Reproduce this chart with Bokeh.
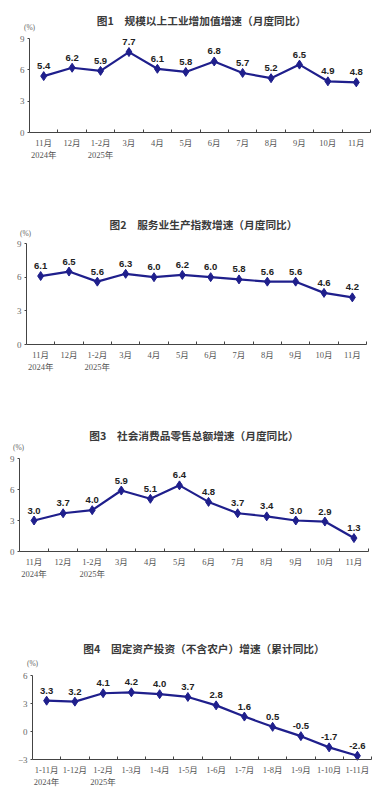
from bokeh.plotting import figure
from bokeh.models import Range1d, FixedTicker, ColumnDataSource
from bokeh.layouts import column
from bokeh.embed import file_html
from bokeh.resources import INLINE
from bokeh.core.properties import value

# ---------------- data ----------------
months_labels = ["11月\n2024年", "12月", "1-2月\n2025年", "3月", "4月", "5月", "6月",
                 "7月", "8月", "9月", "10月", "11月"]
cum_labels = ["1-11月\n2024年", "1-12月", "1-2月\n2025年", "1-3月", "1-4月", "1-5月", "1-6月",
              "1-7月", "1-8月", "1-9月", "1-10月", "1-11月"]

industry = [5.4, 6.2, 5.9, 7.7, 6.1, 5.8, 6.8, 5.7, 5.2, 6.5, 4.9, 4.8]
services = [6.1, 6.5, 5.6, 6.3, 6.0, 6.2, 6.0, 5.8, 5.6, 5.6, 4.6, 4.2]
retail = [3.0, 3.7, 4.0, 5.9, 5.1, 6.4, 4.8, 3.7, 3.4, 3.0, 2.9, 1.3]
investment = [3.3, 3.2, 4.1, 4.2, 4.0, 3.7, 2.8, 1.6, 0.5, -0.5, -1.7, -2.6]

titles = ["图1　规模以上工业增加值增速（月度同比）",
          "图2　服务业生产指数增速（月度同比）",
          "图3　社会消费品零售总额增速（月度同比）",
          "图4　固定资产投资（不含农户）增速（累计同比）"]

y_ticks_a = [0, 3, 6, 9]
y_ticks_b = [-3, 0, 3, 6]

LINE = "#1f1f8c"
SERIF = "Liberation Serif, Noto Sans CJK SC"
CJK = "Noto Sans CJK SC"
W = 392


def make_chart(vals, xlabels, y0, y1, yticks, title, top, h,
               L, T, R, B, title_xy, pct_xy):
    # L, T, R, B: page position of the data area (x 0..12, y y0..y1)
    n = len(vals)
    sx = (R - L) / n
    sy = (B - T) / (y1 - y0)
    x_start = -L / sx
    x_end = n + (W - R) / sx
    y_end = y1 + (T - top) / sy
    y_start = y0 - (top + h - B) / sy

    p = figure(width=W, height=h, output_backend="svg", toolbar_location=None,
               x_range=Range1d(x_start, x_end), y_range=Range1d(y_start, y_end),
               min_border_left=0, min_border_right=0,
               min_border_top=0, min_border_bottom=0)
    p.outline_line_color = None
    p.xgrid.visible = False
    p.ygrid.visible = False
    p.background_fill_color = "white"
    p.border_fill_color = "white"

    xs = [i + 0.5 for i in range(n)]
    src = ColumnDataSource(dict(x=xs, y=vals, t=[f"{v:.1f}" for v in vals]))
    p.line("x", "y", source=src, line_color=LINE, line_width=2.2)
    p.scatter("x", "y", source=src, marker="diamond", size=9, fill_color=LINE,
              line_color=LINE)
    p.text("x", "y", text="t", source=src, text_align="center", text_baseline="middle",
           y_offset=-10, text_font=value("Liberation Sans"), text_font_style="bold",
           text_font_size="9.5px", text_color="#222222")

    # x axis
    xa = p.xaxis[0]
    xa.fixed_location = y0
    xa.bounds = (0, n)
    xa.ticker = FixedTicker(ticks=xs, minor_ticks=[float(i) for i in range(1, n + 1)])
    xa.major_label_overrides = {x: l for x, l in zip(xs, xlabels)}
    xa.major_tick_in = 0
    xa.major_tick_out = 0
    xa.minor_tick_in = 3
    xa.minor_tick_out = 0
    xa.minor_tick_line_color = "#444444"
    xa.axis_line_color = "#444444"
    xa.major_label_standoff = 5
    xa.major_label_text_font = SERIF
    xa.major_label_text_font_size = "8.5px"
    xa.major_label_text_color = "#555555"

    # y axis
    ya = p.yaxis[0]
    ya.fixed_location = 0
    ya.bounds = (y0, y1)
    ya.ticker = FixedTicker(ticks=yticks)
    ya.minor_tick_line_color = None
    ya.major_tick_in = 0
    ya.major_tick_out = 2
    ya.major_tick_line_color = "#444444"
    ya.axis_line_color = "#444444"
    ya.major_label_standoff = 3
    ya.major_label_text_font = SERIF
    ya.major_label_text_font_size = "9px"
    ya.major_label_text_color = "#666666"

    def dx(px):
        return (px - L) / sx

    def dy(py):
        return y0 + (B - py) / sy

    p.text([dx(title_xy[0])], [dy(title_xy[1])], text=[title], text_align="center",
           text_baseline="middle", text_font=value(CJK), text_font_size="10.7px",
           text_font_style="bold", text_color="#3a3a3a")
    p.text([dx(pct_xy[0])], [dy(pct_xy[1])], text=["(%)"], text_align="center",
           text_baseline="middle", text_font=value(SERIF), text_font_size="7.5px",
           text_color="#666666")
    return p


p1 = make_chart(industry, months_labels, 0, 9, y_ticks_a, titles[0], 0, 200,
                29, 38, 370, 132, (201, 20), (29, 27))
p2 = make_chart(services, months_labels, 0, 9, y_ticks_a, titles[1], 200, 200,
                26, 243, 366, 344, (203, 224), (25, 233))
p3 = make_chart(retail, months_labels, 0, 9, y_ticks_a, titles[2], 400, 196,
                19, 458, 368, 551, (193.5, 435), (18, 447))
p4 = make_chart(investment, cum_labels, -3, 6, y_ticks_b, titles[3], 596, 200,
                32, 675, 371, 759, (203.5, 648), (32, 663))

layout = column(p1, p2, p3, p4, spacing=0)
open("out.html", "w").write(file_html(layout, INLINE))
